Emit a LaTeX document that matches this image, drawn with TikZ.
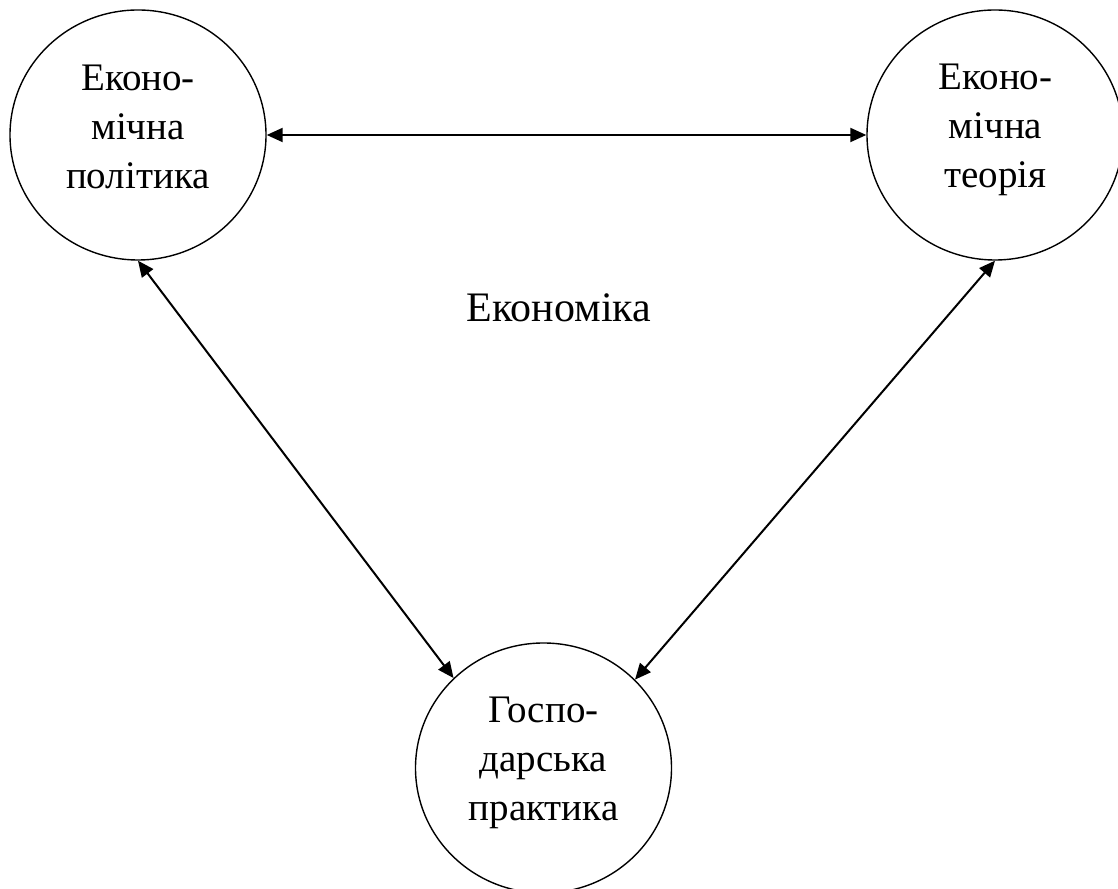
\documentclass[tikz,border=0pt]{standalone}
\usepackage{fontspec}
\setmainfont{Liberation Serif}
\usetikzlibrary{arrows.meta,shapes.geometric}
\begin{document}
\begin{tikzpicture}[x=1pt,y=1pt,
  circ/.style={ellipse,draw,line width=1.4pt,minimum width=256pt,minimum height=250pt,inner sep=0pt},
  ctext/.style={align=center,font=\fontsize{39}{49}\selectfont,inner sep=0pt},
  link/.style={line width=2pt,{Triangle[length=16pt,width=14pt]}-{Triangle[length=16pt,width=14pt]}}]
\useasboundingbox (0,0) rectangle (1118,888);
\node[circ] (ep) at (138,753) {};
\node[circ] (et) at (995,753) {};
\node[circ] (gp) at (543.5,120) {};
\node[ctext] (tp) at (138,761.5) {Еконо-\\мічна\\політика};
\node[ctext] (tt) at (995.5,758) {Еконо-\\мічна\\теорія};
\node[ctext] (tg) at (543.5,125) {Госпо-\\дарська\\практика};
\node[anchor=base,font=\fontsize{42}{50}\selectfont,inner sep=0pt] (ek) at (559,566) {Економіка};
\draw[link] (ep.east) -- (et.west);
\draw[link] (ep.south) -- (gp.135.8);
\draw[link] (et.south) -- (gp.44.5);
\end{tikzpicture}
\end{document}
